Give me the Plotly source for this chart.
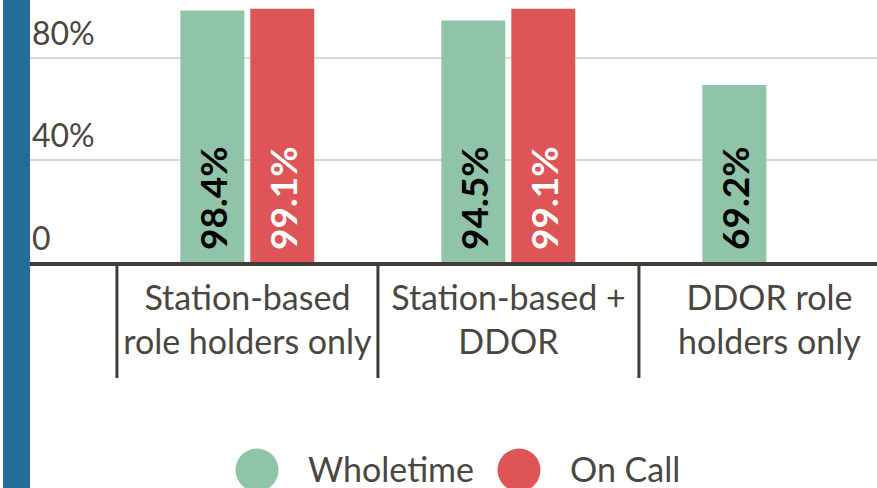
import plotly.graph_objects as go

categories = ["Station-based<br>role holders only", "Station-based +<br>DDOR", "DDOR role<br>holders only"]
wholetime = [98.4, 94.5, 69.2]
on_call = [99.1, 99.1, None]
y_ticks = [0, 40, 80]
y_tick_labels = ["0", "40%", "80%"]

W, H = 877, 488
L, B = 30, 226          # plot area: left edge and bottom margin in px
PH = H - B              # plot height

green = "#8fc4a8"
red = "#dd5556"
dark = "#403c36"
grey_txt = "#4a4640"

def px_x(px):
    return (px - L) / (W - L)

def px_y(py):
    return (PH - py) / PH

x = list(range(len(categories)))

fig = go.Figure()

fig.add_trace(go.Bar(
    x=x, y=wholetime, name="Wholetime",
    marker=dict(color=green, line=dict(width=0)),
    width=0.245, offset=-0.257,
    text=["\u00a0" + f"{v:.1f}%" for v in wholetime],
    textposition="inside", insidetextanchor="start", textangle=-90,
    textfont=dict(family="Lato", size=37, color="black", weight="bold"),
    cliponaxis=False, hoverinfo="skip",
))
fig.add_trace(go.Bar(
    x=x, y=on_call, name="On Call",
    marker=dict(color=red, line=dict(width=0)),
    width=0.245, offset=0.011,
    text=["\u00a0" + f"{v:.1f}%" if v is not None else "" for v in on_call],
    textposition="inside", insidetextanchor="start", textangle=-90,
    textfont=dict(family="Lato", size=37, color="white", weight="bold"),
    cliponaxis=False, hoverinfo="skip",
))

shapes = []
# blue strip on the left
shapes.append(dict(type="rect", xref="paper", yref="paper",
                   xsizemode="pixel", ysizemode="pixel", xanchor=0, yanchor=0,
                   x0=-27, x1=0, y0=-300, y1=400,
                   fillcolor="#236e96", line=dict(width=0), layer="above"))
# category dividers
for i in range(len(categories) + 1):
    shapes.append(dict(type="line", xref="x", yref="paper",
                       ysizemode="pixel", yanchor=0,
                       x0=i - 0.5, x1=i - 0.5, y0=-2, y1=-116,
                       line=dict(color=dark, width=3)))

annotations = []
# y tick labels, sitting just above their gridlines
for v, lab in zip(y_ticks, y_tick_labels):
    annotations.append(dict(text=lab, xref="paper", yref="y", x=0, y=v,
                            xanchor="left", yanchor="middle", xshift=0, yshift=25,
                            showarrow=False,
                            font=dict(family="Lato", size=32, color=grey_txt)))

# legend drawn by hand (big circles)
legend_items = [("Wholetime", green, 257, 306), ("On Call", red, 519, 568)]
for name, col, cx, tx in legend_items:
    shapes.append(dict(type="circle", xref="paper", yref="paper",
                       xsizemode="pixel", ysizemode="pixel",
                       xanchor=px_x(cx), yanchor=px_y(470),
                       x0=-21.5, x1=21.5, y0=-21.5, y1=21.5,
                       fillcolor=col, line=dict(width=0)))
    annotations.append(dict(text=name, xref="paper", yref="paper",
                            x=px_x(tx), y=px_y(468), xanchor="left", yanchor="middle",
                            showarrow=False,
                            font=dict(family="Lato", size=34, color=grey_txt)))

fig.update_layout(
    width=W, height=H,
    margin=dict(l=L, r=0, t=0, b=B, pad=0),
    paper_bgcolor="white", plot_bgcolor="white",
    barmode="overlay",
    showlegend=False,
    shapes=shapes,
    annotations=annotations,
    xaxis=dict(
        range=[-0.833, 2.412],
        tickmode="array", tickvals=x, ticktext=categories,
        ticks="", showgrid=False, zeroline=False,
        showline=True, linecolor=dark, linewidth=4,
        ticklabelstandoff=3,
        tickfont=dict(family="Lato", size=34, color=grey_txt),
        fixedrange=True,
    ),
    yaxis=dict(
        range=[0, 102.5],
        tickmode="array", tickvals=y_ticks, showticklabels=False,
        ticks="", showline=False, zeroline=False,
        showgrid=True, gridcolor="#d9d9d9", gridwidth=2,
        fixedrange=True,
    ),
)

fig.write_html("out.html", config={"displayModeBar": False},
               post_script="document.body.style.margin='0';")
